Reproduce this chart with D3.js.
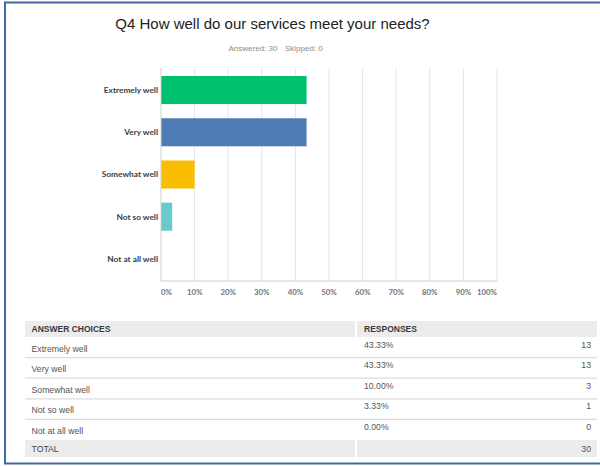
<!DOCTYPE html>
<html>
<head>
<meta charset="utf-8">
<script src="https://cdn.jsdelivr.net/npm/d3@7"></script>
<style>
  html, body { margin: 0; padding: 0; background: #fff; }
  svg { display: block; }
</style>
</head>
<body>
<svg id="chart" width="600" height="466"></svg>
<script>
// ---- data ----
const title = "Q4 How well do our services meet your needs?";
const subtitleParts = ["Answered: 30", "Skipped: 0"];
const categories = ["Extremely well", "Very well", "Somewhat well", "Not so well", "Not at all well"];
const percents = [43.33, 43.33, 10.00, 3.33, 0.00];
const counts = [13, 13, 3, 1, 0];
const total = 30;
const barColors = ["#00bf6f", "#507cb6", "#f9be00", "#6bc8cd", "#ff8b4f"];
const xTicks = [0, 10, 20, 30, 40, 50, 60, 70, 80, 90, 100];
const tableHeaders = ["ANSWER CHOICES", "RESPONSES"];
const totalLabel = "TOTAL";

const svg = d3.select("#chart");

// frame
svg.append("rect")
  .attr("x", 5).attr("y", 2.5).attr("width", 600).attr("height", 461)
  .attr("fill", "#fff").attr("stroke", "#4566a8").attr("stroke-width", 2);

// title
svg.append("text")
  .attr("x", 272.5).attr("y", 28.5)
  .attr("text-anchor", "middle")
  .attr("font-family", "Liberation Sans, Arial, sans-serif")
  .attr("font-size", 15)
  .attr("fill", "#222")
  .text(title);

svg.append("text")
  .attr("x", 228.5).attr("y", 51)
  .attr("font-family", "Liberation Sans, Arial, sans-serif")
  .attr("font-size", 8)
  .attr("fill", "#8a8a8a")
  .text(subtitleParts[0]);
svg.append("text")
  .attr("x", 285).attr("y", 51)
  .attr("font-family", "Liberation Sans, Arial, sans-serif")
  .attr("font-size", 8)
  .attr("fill", "#8a8a8a")
  .text(subtitleParts[1]);

// ---- bar chart ----
const x = d3.scaleLinear().domain([0, 100]).range([161, 497]);
const y = d3.scaleBand().domain(categories).range([68, 281]).paddingInner(0.336).paddingOuter(0.19);

const plot = svg.append("g");

// gridlines
plot.selectAll("line.grid")
  .data(xTicks.filter(d => d > 0))
  .join("line")
  .attr("class", "grid")
  .attr("x1", d => x(d)).attr("x2", d => x(d))
  .attr("y1", 68).attr("y2", 281)
  .attr("stroke", "#e6e6e6").attr("stroke-width", 1);

// bars
plot.selectAll("rect.bar")
  .data(categories.map((c, i) => ({ c, v: percents[i], color: barColors[i] })))
  .join("rect")
  .attr("class", "bar")
  .attr("x", x(0))
  .attr("y", d => y(d.c))
  .attr("width", d => x(d.v) - x(0))
  .attr("height", y.bandwidth())
  .attr("fill", d => d.color);

// axes lines
plot.append("line")
  .attr("x1", x(0)).attr("x2", x(0)).attr("y1", 68).attr("y2", 281)
  .attr("stroke", "#cfcfcf").attr("stroke-width", 1);
plot.append("line")
  .attr("x1", x(0)).attr("x2", x(100)).attr("y1", 281).attr("y2", 281)
  .attr("stroke", "#cfcfcf").attr("stroke-width", 1);

// x tick labels
plot.selectAll("text.xtick")
  .data(xTicks)
  .join("text")
  .attr("class", "xtick")
  .attr("x", d => x(d))
  .attr("y", 295)
  .attr("text-anchor", d => d === 0 ? "start" : (d === 100 ? "end" : "middle"))
  .attr("font-family", "Lato, sans-serif")
  .attr("font-weight", "bold")
  .attr("font-size", 7.8)
  .attr("fill", "#6f747a")
  .text(d => d + "%");

// category labels
plot.selectAll("text.cat")
  .data(categories)
  .join("text")
  .attr("class", "cat")
  .attr("x", 158)
  .attr("y", d => y(d) + y.bandwidth() / 2)
  .attr("dy", "0.35em")
  .attr("text-anchor", "end")
  .attr("font-family", "Lato, sans-serif")
  .attr("font-weight", "bold")
  .attr("font-size", 8.3)
  .attr("fill", "#333e48")
  .text(d => d);

// ---- table ----
const tbl = svg.append("g");
const tLeft = 25, tSplit = 356, tRight = 597;
const headTop = 321, headH = 16;
const rowH = 20.6;
const rowTop = i => headTop + headH + i * rowH;
const totalTop = rowTop(categories.length);
const font = "Liberation Sans, Arial, sans-serif";

// header backgrounds
tbl.append("rect").attr("x", tLeft).attr("y", headTop).attr("width", tSplit - tLeft - 1).attr("height", headH).attr("fill", "#ececec");
tbl.append("rect").attr("x", tSplit + 1).attr("y", headTop).attr("width", tRight - tSplit - 1).attr("height", headH).attr("fill", "#ececec");
tbl.append("text").attr("x", 31.5).attr("y", headTop + headH / 2).attr("dy", "0.35em")
  .attr("font-family", font).attr("font-weight", "bold").attr("font-size", 8.5).attr("fill", "#3a3a3a").text(tableHeaders[0]);
tbl.append("text").attr("x", 364).attr("y", headTop + headH / 2).attr("dy", "0.35em")
  .attr("font-family", font).attr("font-weight", "bold").attr("font-size", 8.5).attr("fill", "#3a3a3a").text(tableHeaders[1]);

// row separators
tbl.selectAll("line.sep")
  .data(d3.range(1, categories.length))
  .join("line")
  .attr("class", "sep")
  .attr("x1", tLeft).attr("x2", tRight)
  .attr("y1", i => rowTop(i)).attr("y2", i => rowTop(i))
  .attr("stroke", "#dcdcdc").attr("stroke-width", 1.2);

const rows = tbl.selectAll("g.row")
  .data(categories.map((c, i) => ({ c, p: percents[i], n: counts[i], i })))
  .join("g").attr("class", "row");

rows.append("text")
  .attr("x", 31.5).attr("y", d => rowTop(d.i) + 11.5).attr("dy", "0.35em")
  .attr("font-family", font).attr("font-size", 8.7).attr("fill", "#555")
  .text(d => d.c);
rows.append("text")
  .attr("x", 364).attr("y", d => rowTop(d.i) + 7.5).attr("dy", "0.35em")
  .attr("font-family", font).attr("font-size", 8.7).attr("fill", "#555")
  .text(d => d.p.toFixed(2) + "%");
rows.append("text")
  .attr("x", 591).attr("y", d => rowTop(d.i) + 7.5).attr("dy", "0.35em")
  .attr("text-anchor", "end")
  .attr("font-family", font).attr("font-size", 8.7).attr("fill", "#555")
  .text(d => d.n);

// total row
tbl.append("rect").attr("x", tLeft).attr("y", totalTop).attr("width", tSplit - tLeft - 1).attr("height", 17).attr("fill", "#ececec");
tbl.append("rect").attr("x", tSplit + 1).attr("y", totalTop).attr("width", tRight - tSplit - 1).attr("height", 17).attr("fill", "#ececec");
tbl.append("text").attr("x", 31.5).attr("y", totalTop + 8.5).attr("dy", "0.35em")
  .attr("font-family", font).attr("font-size", 8.7).attr("fill", "#444").text(totalLabel);
tbl.append("text").attr("x", 591).attr("y", totalTop + 8.5).attr("dy", "0.35em").attr("text-anchor", "end")
  .attr("font-family", font).attr("font-size", 8.7).attr("fill", "#555").text(total);
</script>
</body>
</html>
